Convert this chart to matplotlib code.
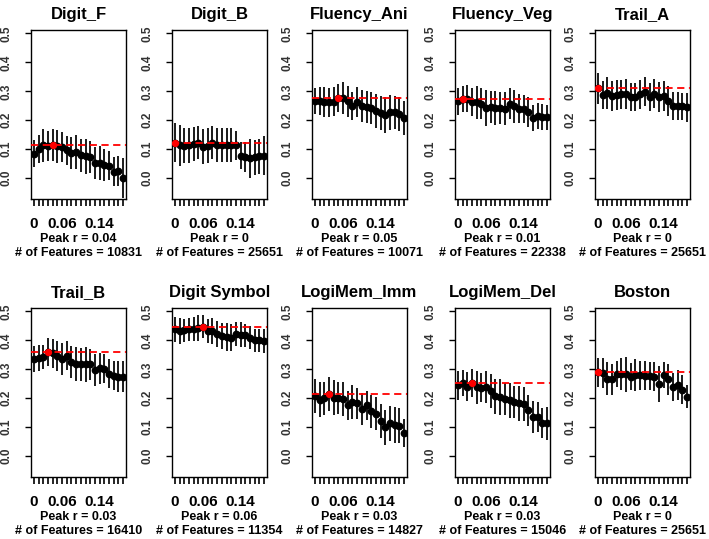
import matplotlib
matplotlib.use('Agg')
import matplotlib.pyplot as plt

# thresholds on the x axis
thresholds = [0.00, 0.01, 0.02, 0.03, 0.04, 0.05, 0.06, 0.07, 0.08, 0.09,
              0.10, 0.11, 0.12, 0.13, 0.14, 0.15, 0.16, 0.17, 0.18, 0.19]
xtick_labels = {0.00: '0', 0.06: '0.06', 0.14: '0.14'}

titles = ['Digit_F', 'Digit_B', 'Fluency_Ani', 'Fluency_Veg', 'Trail_A',
          'Trail_B', 'Digit Symbol', 'LogiMem_Imm', 'LogiMem_Del', 'Boston']
peak_r = [0.04, 0, 0.05, 0.01, 0, 0.03, 0.06, 0.03, 0.03, 0]
n_features = [10831, 25651, 10071, 22338, 25651, 16410, 11354, 14827, 15046, 25651]

# mean correlation per threshold
digit_f = [0.085, 0.100, 0.114, 0.110, 0.116, 0.110, 0.108, 0.097, 0.087, 0.090,
           0.079, 0.076, 0.074, 0.053, 0.053, 0.046, 0.043, 0.022, 0.025, 0.000]
digit_b = [0.123, 0.113, 0.112, 0.113, 0.118, 0.123, 0.109, 0.112, 0.123, 0.115,
           0.115, 0.115, 0.115, 0.113, 0.078, 0.072, 0.069, 0.072, 0.075, 0.078]
fluency_ani = [0.266, 0.266, 0.262, 0.262, 0.264, 0.277, 0.276, 0.265, 0.250, 0.262,
               0.250, 0.245, 0.243, 0.232, 0.225, 0.218, 0.228, 0.227, 0.222, 0.207]
fluency_veg = [0.265, 0.272, 0.275, 0.262, 0.262, 0.258, 0.243, 0.245, 0.243, 0.243,
               0.240, 0.258, 0.248, 0.240, 0.240, 0.228, 0.208, 0.215, 0.213, 0.210]
trail_a = [0.310, 0.288, 0.295, 0.285, 0.287, 0.290, 0.290, 0.280, 0.280, 0.290,
           0.298, 0.280, 0.292, 0.280, 0.283, 0.268, 0.250, 0.250, 0.248, 0.245]
trail_b = [0.335, 0.338, 0.342, 0.360, 0.355, 0.345, 0.335, 0.347, 0.325, 0.318,
           0.317, 0.317, 0.317, 0.297, 0.303, 0.302, 0.285, 0.278, 0.275, 0.275]
digit_symbol = [0.438, 0.432, 0.435, 0.438, 0.440, 0.442, 0.447, 0.432, 0.432, 0.423,
                0.415, 0.413, 0.410, 0.422, 0.420, 0.418, 0.410, 0.400, 0.400, 0.398]
logimem_imm = [0.207, 0.195, 0.200, 0.215, 0.202, 0.200, 0.198, 0.176, 0.188, 0.182,
               0.163, 0.176, 0.155, 0.147, 0.121, 0.100, 0.113, 0.108, 0.105, 0.080]
logimem_del = [0.245, 0.252, 0.240, 0.252, 0.238, 0.237, 0.238, 0.225, 0.207, 0.205,
               0.198, 0.193, 0.188, 0.182, 0.180, 0.158, 0.135, 0.135, 0.115, 0.113]
boston = [0.290, 0.287, 0.268, 0.265, 0.285, 0.285, 0.283, 0.275, 0.280, 0.280,
          0.278, 0.277, 0.275, 0.248, 0.280, 0.265, 0.240, 0.245, 0.230, 0.205]

# half-width of the error bars
digit_f_err = [0.046, 0.049, 0.057, 0.052, 0.055, 0.057, 0.052, 0.050, 0.055, 0.058,
               0.058, 0.060, 0.055, 0.055, 0.058, 0.055, 0.050, 0.050, 0.052, 0.068]
digit_b_err = [0.068, 0.070, 0.060, 0.062, 0.060, 0.058, 0.060, 0.060, 0.058, 0.060,
               0.058, 0.058, 0.058, 0.050, 0.048, 0.052, 0.068, 0.060, 0.060, 0.068]
fluency_ani_err = [0.045, 0.048, 0.052, 0.050, 0.050, 0.048, 0.055, 0.052, 0.048, 0.052,
                   0.055, 0.055, 0.055, 0.058, 0.060, 0.062, 0.060, 0.058, 0.058, 0.058]
fluency_veg_err = [0.048, 0.045, 0.048, 0.048, 0.058, 0.052, 0.062, 0.055, 0.058, 0.055,
                   0.058, 0.052, 0.058, 0.050, 0.048, 0.052, 0.045, 0.045, 0.045, 0.042]
trail_a_err = [0.055, 0.048, 0.055, 0.052, 0.052, 0.050, 0.052, 0.048, 0.048, 0.050,
               0.050, 0.048, 0.050, 0.052, 0.052, 0.052, 0.048, 0.048, 0.048, 0.050]
trail_b_err = [0.045, 0.045, 0.042, 0.048, 0.050, 0.052, 0.055, 0.050, 0.055, 0.058,
               0.058, 0.060, 0.055, 0.055, 0.055, 0.050, 0.050, 0.050, 0.055, 0.055]
digit_symbol_err = [0.042, 0.045, 0.040, 0.040, 0.042, 0.045, 0.040, 0.042, 0.045, 0.045,
                    0.045, 0.048, 0.045, 0.042, 0.042, 0.040, 0.040, 0.040, 0.040, 0.040]
logimem_imm_err = [0.058, 0.060, 0.058, 0.058, 0.060, 0.055, 0.058, 0.050, 0.058, 0.055,
                   0.055, 0.050, 0.058, 0.058, 0.058, 0.060, 0.062, 0.062, 0.060, 0.050]
logimem_del_err = [0.050, 0.045, 0.050, 0.048, 0.058, 0.050, 0.055, 0.060, 0.060, 0.062,
                   0.055, 0.060, 0.055, 0.060, 0.058, 0.055, 0.055, 0.052, 0.052, 0.058]
boston_err = [0.050, 0.052, 0.058, 0.055, 0.045, 0.055, 0.060, 0.048, 0.055, 0.050,
              0.050, 0.050, 0.050, 0.062, 0.045, 0.052, 0.048, 0.052, 0.050, 0.040]

means = [digit_f, digit_b, fluency_ani, fluency_veg, trail_a,
         trail_b, digit_symbol, logimem_imm, logimem_del, boston]
errs = [digit_f_err, digit_b_err, fluency_ani_err, fluency_veg_err, trail_a_err,
        trail_b_err, digit_symbol_err, logimem_imm_err, logimem_del_err, boston_err]

plt.rcParams['font.family'] = ['Liberation Sans', 'DejaVu Sans']
plt.rcParams['font.weight'] = 'bold'

W, H = 709, 539
fig = plt.figure(figsize=(W / 100, H / 100), dpi=100)

# panel boxes in pixels
col_left = [31, 172, 312, 455, 595]
row_top = [30, 308]
box_w, box_h = 95, 169

for k in range(10):
    r, c = divmod(k, 5)
    left = col_left[c] / W
    bottom = 1 - (row_top[r] + box_h) / H
    ax = fig.add_axes([left, bottom, box_w / W, box_h / H])

    y = means[k]
    ax.errorbar(thresholds, y, yerr=errs[k], fmt='none', ecolor='#1a1a1a',
                elinewidth=1.4, capsize=0, zorder=2)
    ax.plot(thresholds, y, 'o', color='black', ms=4.6, zorder=3)

    ip = thresholds.index(peak_r[k])
    ax.axhline(y[ip], color='red', lw=1.3, ls=(0, (4, 2.5)), zorder=4)
    ax.plot(thresholds[ip], y[ip], 'o', color='red', ms=4.2, zorder=5)

    ax.set_xlim(-0.006, 0.196)
    ax.set_ylim(-0.072, 0.512)

    ax.set_xticks(thresholds)
    ax.set_xticklabels([xtick_labels.get(t, '') for t in thresholds],
                       fontsize=11, fontweight='bold')
    ax.tick_params(axis='x', direction='out', length=5, width=1.2, pad=8)

    yt = [0.0, 0.1, 0.2, 0.3, 0.4, 0.5]
    ax.set_yticks(yt)
    ax.set_yticklabels(['%.1f' % v for v in yt], fontsize=8.5, fontweight='bold',
                       rotation=90, va='center', color='#333333')
    ax.tick_params(axis='y', direction='out', length=4.5, width=1.0, pad=9)

    for s in ax.spines.values():
        s.set_linewidth(1.0)

    ax.set_title(titles[k], fontsize=12, fontweight='bold', pad=8)
    ax.text(0.5, -40 / box_h, 'Peak r = %g' % peak_r[k], transform=ax.transAxes,
            ha='center', va='center', fontsize=9, fontweight='bold')
    ax.text(0.5, -54 / box_h, '# of Features = %d' % n_features[k],
            transform=ax.transAxes, ha='center', va='center', fontsize=9,
            fontweight='bold')

fig.savefig('out.png', dpi=100)
